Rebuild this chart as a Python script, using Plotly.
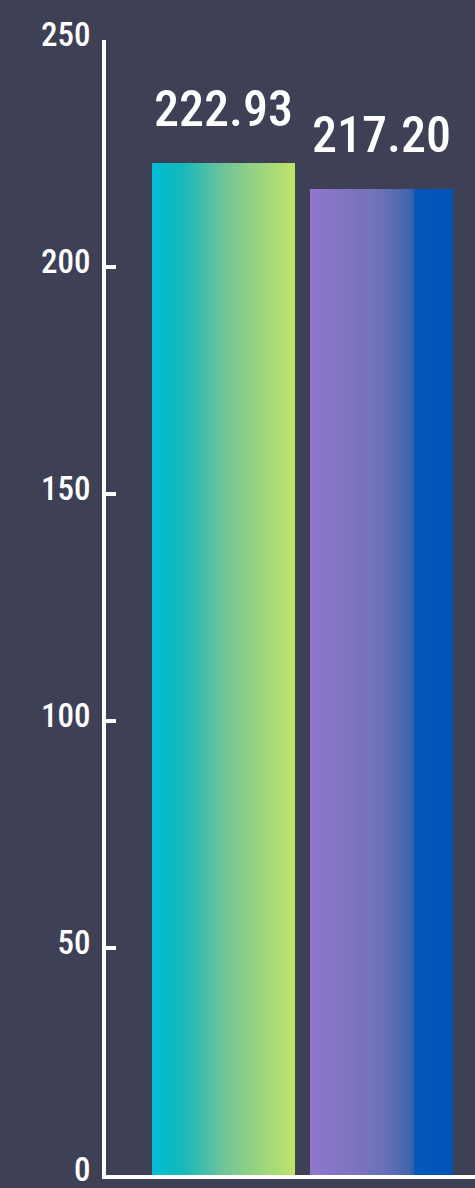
import numpy as np
import plotly.graph_objects as go

# ---- data ----
categories = ["Series A", "Series B"]
values = [222.93, 217.20]
value_labels = ["222.93", "217.20"]
y_ticks = [0, 50, 100, 150, 200, 250]

# ---- style ----
gradients = [
    [(0.0, (0, 190, 212)), (0.2, (18, 184, 188)), (0.5, (112, 196, 152)), (1.0, (192, 228, 104))],
    [(0.0, (146, 118, 206)), (0.5, (110, 114, 182)), (0.71, (64, 100, 172)), (0.74, (2, 88, 184)), (1.0, (0, 82, 184))],
]
BG = "#3e4055"
FONT = "Roboto Condensed, Open Sans Condensed, Roboto, sans-serif"
N = 48
bar_w = 0.905

def interp(stops, t):
    for (t0, c0), (t1, c1) in zip(stops[:-1], stops[1:]):
        if t <= t1:
            f = 0 if t1 == t0 else (t - t0) / (t1 - t0)
            c = [round(a + (b - a) * f) for a, b in zip(c0, c1)]
            return f"rgb({c[0]},{c[1]},{c[2]})"
    c = stops[-1][1]
    return f"rgb({c[0]},{c[1]},{c[2]})"

fig = go.Figure()
for i, (cat, v) in enumerate(zip(categories, values)):
    ts = (np.arange(N) + 0.5) / N
    xs = i - bar_w / 2 + ts * bar_w
    fig.add_trace(go.Bar(
        x=xs, y=[v] * N, width=[bar_w / N] * N,
        marker=dict(color=[interp(gradients[i], t) for t in ts], line=dict(width=0)),
        name=cat, hoverinfo="skip", showlegend=False,
    ))
    fig.add_annotation(x=i, y=v, text=value_labels[i], showarrow=False,
                       xanchor="center", yanchor="bottom", yshift=23,
                       font=dict(family=FONT, size=50, color="white", weight=500))

fig.update_layout(
    width=475, height=1188,
    margin=dict(l=106, r=0, t=40, b=13),
    paper_bgcolor=BG, plot_bgcolor=BG,
    bargap=0, bargroupgap=0, barmode="overlay",
    xaxis=dict(range=[-0.7437, 1.5918], showgrid=False, zeroline=False,
               showticklabels=False, ticks="", showline=True,
               linecolor="white", linewidth=4, fixedrange=True),
    yaxis=dict(range=[-0.01, 250.01], tickvals=y_ticks, showgrid=False, zeroline=False,
               showline=True, linecolor="white", linewidth=4,
               ticks="inside", ticklen=10, tickwidth=4, tickcolor="white",
               ticklabelstandoff=5, ticklabelshift=-6, ticklabeloverflow="allow",
               tickfont=dict(family=FONT, size=33, color="white", weight=500), fixedrange=True),
)

fig.write_html("out.html")
